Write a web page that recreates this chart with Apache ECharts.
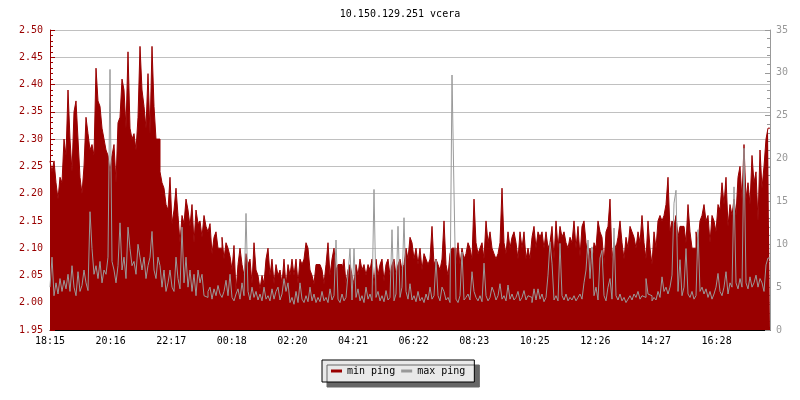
<!DOCTYPE html>
<html><head><meta charset="utf-8">
<script src="https://cdn.jsdelivr.net/npm/echarts@6/dist/echarts.min.js"></script>
<style>html,body{margin:0;padding:0;background:#fff}#c{width:800px;height:400px}</style>
</head><body><div id="c"></div>
<script>
const titleText = '10.150.129.251 vcera';
const seriesNames = ['min ping', 'max ping'];
const stepMinutes = 4;
const spanMinutes = 1440;
const tickStep = 121.2;
const tickLabels = ['18:15','20:16','22:17','00:18','02:20','04:21','06:22','08:23','10:25','12:26','14:27','16:28'];

const minPing = [
2.26,2.24,2.26,2.22,2.19,2.23,2.22,2.30,2.27,2.39,
2.30,2.24,2.35,2.37,2.30,2.23,2.20,2.25,2.34,2.31,
2.28,2.29,2.27,2.43,2.37,2.36,2.32,2.30,2.28,2.27,
2.24,2.27,2.29,2.22,2.33,2.34,2.41,2.39,2.32,2.46,
2.32,2.30,2.31,2.28,2.34,2.47,2.39,2.36,2.32,2.42,
2.31,2.47,2.36,2.30,2.30,2.24,2.22,2.21,2.18,2.17,

2.23,2.145,2.17,2.21,2.16,2.11,2.16,2.145,2.19,2.17,
2.14,2.18,2.11,2.17,2.145,2.15,2.12,2.16,2.14,2.13,
2.145,2.09,2.12,2.13,2.10,2.10,2.12,2.08,2.11,2.10,
2.085,2.06,2.105,2.02,2.07,2.10,2.07,2.05,2.09,2.07,
2.08,2.035,2.11,2.06,2.05,2.025,2.05,2.035,2.08,2.10,
2.05,2.08,2.035,2.07,2.05,2.06,2.035,2.08,2.03,2.07,

2.05,2.08,2.05,2.08,2.035,2.08,2.07,2.08,2.11,2.10,
2.06,2.05,2.035,2.07,2.07,2.07,2.06,2.035,2.07,2.11,
2.05,2.08,2.10,2.06,2.07,2.07,2.06,2.08,2.035,2.06,
2.07,2.05,2.035,2.07,2.05,2.08,2.06,2.07,2.05,2.07,
2.06,2.08,2.03,2.08,2.05,2.07,2.08,2.04,2.07,2.08,
2.05,2.07,2.08,2.05,2.07,2.08,2.06,2.07,2.10,2.08,

2.12,2.11,2.08,2.10,2.07,2.10,2.06,2.09,2.08,2.07,
2.08,2.14,2.07,2.08,2.07,2.06,2.08,2.15,2.07,2.05,
2.09,2.10,2.10,2.07,2.11,2.07,2.10,2.08,2.09,2.11,
2.10,2.08,2.19,2.11,2.09,2.10,2.11,2.08,2.15,2.11,
2.13,2.10,2.09,2.08,2.09,2.11,2.21,2.11,2.09,2.13,
2.10,2.12,2.13,2.11,2.08,2.13,2.10,2.13,2.08,2.10,

2.08,2.12,2.14,2.10,2.13,2.12,2.13,2.10,2.13,2.10,
2.11,2.14,2.08,2.15,2.10,2.14,2.12,2.13,2.11,2.10,
2.12,2.11,2.15,2.10,2.14,2.085,2.14,2.15,2.11,2.08,
2.10,2.07,2.11,2.10,2.15,2.13,2.12,2.07,2.13,2.14,
2.19,2.08,2.11,2.10,2.12,2.15,2.11,2.08,2.12,2.10,
2.14,2.13,2.12,2.10,2.13,2.11,2.16,2.11,2.08,2.15,

2.10,2.07,2.13,2.10,2.15,2.16,2.15,2.16,2.18,2.23,
2.13,2.15,2.14,2.16,2.12,2.14,2.14,2.14,2.11,2.18,
2.13,2.10,2.10,2.13,2.11,2.15,2.16,2.18,2.15,2.16,
2.11,2.16,2.15,2.13,2.18,2.17,2.22,2.18,2.23,2.14,
2.18,2.16,2.19,2.16,2.23,2.25,2.19,2.29,2.19,2.22,
2.18,2.27,2.22,2.24,2.15,2.28,2.21,2.25,2.30,2.32
];

const maxPing = [
5.0,8.5,4.0,5.5,4.2,6.0,4.5,5.8,4.8,6.5,
4.5,7.5,5.0,4.0,6.8,4.5,5.2,7.0,5.5,4.6,
13.8,9.5,6.5,7.5,6.0,8.0,5.5,7.0,6.5,8.5,
30.4,8.0,7.0,5.5,7.5,12.5,7.0,8.5,6.0,12.0,
9.5,7.5,8.0,6.5,10.0,8.5,7.0,8.5,6.0,7.5,
8.5,11.5,7.0,6.0,8.5,7.5,5.0,7.0,4.5,5.5,

7.0,5.0,4.5,8.5,6.0,4.8,12.0,5.5,8.5,5.0,
7.0,4.5,6.5,4.0,7.0,5.5,6.5,4.0,3.8,4.5,
5.0,3.6,4.8,4.0,5.2,4.2,3.8,4.5,5.8,4.0,
6.5,3.8,3.4,4.2,4.8,3.6,5.5,4.0,13.6,4.5,
3.5,5.0,3.8,4.5,3.5,4.2,3.4,5.0,3.6,4.0,
3.4,4.8,3.6,4.5,5.0,3.5,4.2,6.0,4.5,5.5,

3.2,3.8,3.0,4.5,3.2,5.5,3.6,3.2,4.0,3.3,
5.0,3.4,4.2,3.2,3.8,3.3,4.5,3.4,3.8,3.2,
4.8,3.5,4.0,10.5,3.6,3.2,4.2,3.4,3.8,6.5,
9.5,3.5,9.5,3.8,4.8,3.4,4.0,3.2,5.0,3.6,
4.2,3.4,16.4,3.8,4.5,3.4,4.0,3.3,4.6,3.5,
3.8,11.7,3.4,4.2,12.1,3.8,5.0,13.1,4.5,3.6,

5.4,3.5,4.0,3.3,4.5,3.4,3.8,3.2,4.2,3.5,
5.0,3.6,4.0,8.2,4.0,3.4,5.0,4.5,3.5,3.8,
3.2,29.75,16.1,3.6,3.2,4.0,9.1,3.5,3.8,4.2,
3.5,6.8,4.5,3.8,3.4,4.0,3.3,7.8,4.0,3.4,
3.8,5.0,4.4,3.5,4.0,5.4,3.6,4.0,3.4,5.25,
3.6,4.2,3.5,3.8,4.5,3.4,3.8,4.6,3.5,4.0,

3.8,3.2,4.8,3.5,4.8,3.6,4.2,3.3,3.8,6.4,
10.3,7.8,3.5,4.0,3.4,10.1,4.0,3.5,4.2,3.4,
3.8,3.5,4.0,3.4,3.8,4.2,3.6,5.5,7.0,10.5,
6.0,9.7,4.0,5.0,3.5,8.4,9.3,4.0,3.4,5.0,
6.0,3.6,11.9,4.0,3.5,4.2,3.4,3.8,3.2,3.6,
4.0,3.5,4.2,3.8,4.5,3.6,4.0,3.8,6.0,4.2,

4.0,3.4,3.8,3.5,4.5,3.8,6.2,4.5,5.0,4.2,
5.0,6.4,14.8,16.3,4.5,8.2,4.0,5.0,9.5,4.2,
3.8,4.5,3.6,4.0,11.7,4.5,5.0,4.2,4.8,3.8,
4.5,3.6,4.2,5.0,6.6,4.5,4.0,5.0,6.8,4.2,
5.5,5.0,16.7,5.5,4.8,6.0,5.0,21.2,5.5,4.8,
6.2,5.0,5.5,6.4,5.0,6.0,5.5,4.5,7.6,8.4
];

function toPairs(arr) {
  const out = arr.map((v, i) => [i * stepMinutes, v]);
  out.push([spanMinutes, arr[arr.length - 1]]);
  return out;
}

const mono = 'DejaVu Sans Mono';
const red = '#990000';
const grey = '#999999';

const chart = echarts.init(document.getElementById('c'), null, {renderer: 'canvas'});
chart.setOption({
  animation: false,
  title: {
    text: titleText, left: 'center', top: 4,
    textStyle: {fontFamily: mono, fontSize: 10, fontWeight: 'normal', color: '#000'}
  },
  legend: {
    data: seriesNames, left: 322, top: 360,
    icon: 'rect', itemWidth: 11, itemHeight: 3, itemGap: 6,
    padding: [6, 9],
    backgroundColor: '#e9e9e9', borderColor: '#000', borderWidth: 1,
    shadowColor: '#666666', shadowOffsetX: 5, shadowOffsetY: 5, shadowBlur: 0,
    textStyle: {fontFamily: mono, fontSize: 10, color: '#000'}
  },
  grid: {left: 50, right: 30, top: 30, bottom: 70},
  xAxis: {
    type: 'value', min: 0, max: spanMinutes, interval: tickStep,
    axisLine: {lineStyle: {color: '#000'}},
    axisTick: {inside: true, length: 4, lineStyle: {color: '#000'}},
    axisLabel: {
      formatter: v => tickLabels[Math.round(v / tickStep)] || '',
      color: '#000', fontFamily: mono, fontSize: 10, margin: 6, showMaxLabel: false
    },
    splitLine: {show: false}
  },
  yAxis: [{
    type: 'value', min: 1.95, max: 2.5, interval: 0.05, position: 'left',
    axisLine: {show: true, lineStyle: {color: red}},
    axisTick: {show: true, inside: true, length: 5, lineStyle: {color: red}},
    minorTick: {show: true, splitNumber: 5, length: 3, lineStyle: {color: red}},
    axisLabel: {color: red, fontFamily: mono, fontSize: 10, margin: 7, formatter: v => v.toFixed(2)},
    splitLine: {show: true, lineStyle: {color: '#c0c0c0', width: 1}}
  }, {
    type: 'value', min: 0, max: 35, interval: 5, position: 'right',
    axisLine: {show: true, lineStyle: {color: grey}},
    axisTick: {show: true, inside: true, length: 5, lineStyle: {color: grey}},
    minorTick: {show: true, splitNumber: 5, length: 3, lineStyle: {color: grey}},
    axisLabel: {color: grey, fontFamily: mono, fontSize: 10, margin: 6},
    splitLine: {show: false}
  }],
  series: [{
    name: seriesNames[0], type: 'line', yAxisIndex: 0, step: 'end', symbol: 'none',
    lineStyle: {color: red, width: 1}, itemStyle: {color: red},
    areaStyle: {color: red, opacity: 1}, data: toPairs(minPing), z: 2
  }, {
    name: seriesNames[1], type: 'line', yAxisIndex: 1, step: 'end', symbol: 'none',
    lineStyle: {color: grey, width: 1}, itemStyle: {color: grey},
    data: toPairs(maxPing), z: 3
  }]
});
</script>
</body></html>
